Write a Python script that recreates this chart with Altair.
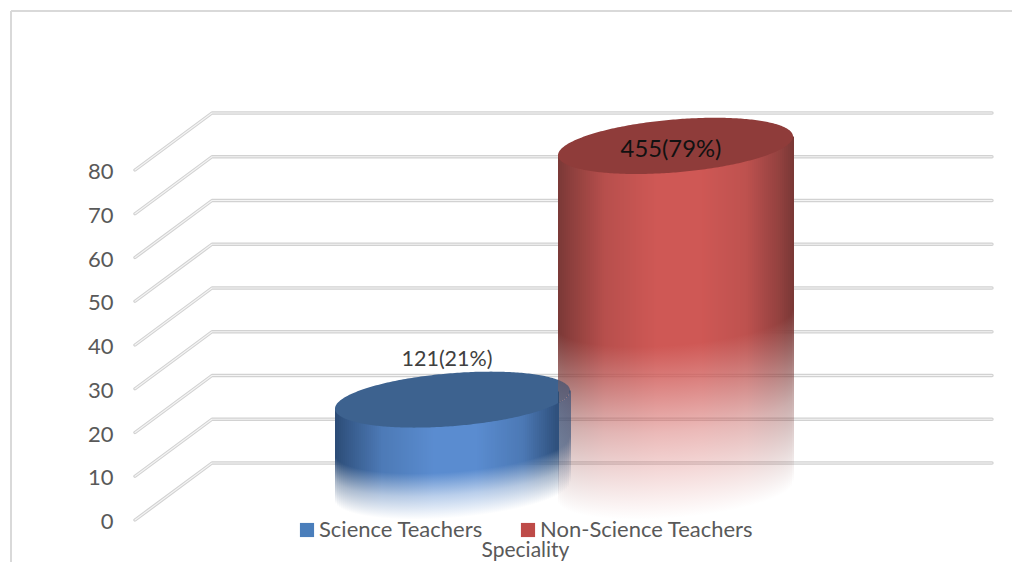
import altair as alt
import numpy as np

# ---- chart content ----
series = ["Science Teachers", "Non-Science Teachers"]
percents = [21, 79]
counts = [121, 455]
tick_values = [0, 10, 20, 30, 40, 50, 60, 70, 80]
legend_colors = ["#4a7ebb", "#be4b48"]

side_left = [(43, 75, 117), (122, 56, 54)]
side_mid = [(90, 140, 208), (207, 88, 85)]
top_colors = [(61, 98, 143), (143, 60, 58)]
overlap_top = "#2f4a70"
shade_pos = [0.0, 0.05, 0.2, 0.42, 0.6, 0.8, 0.94, 1.0]
shade_amt = [[0.0, 0.2, 0.72, 1.0, 1.0, 0.7, 0.1, 0.0],
             [0.0, 0.2, 0.72, 1.0, 1.0, 0.8, 0.3, 0.0]]

# ---- geometry of the pseudo-3D frame ----
W, H = 1004, 554
PX_PER_UNIT = 4.375
FRONT0 = 520.0  # canvas y of value 0, front edge


def vy(p):
    return (FRONT0 - p) / PX_PER_UNIT


DEPTH = 57 / PX_PER_UNIT
FLOOR_FRONT_X, BACK_X, RIGHT_X = 127, 204, 984
centers = [444.5, 667.5]
RX = 117.5
SLOPE = [-0.077, -0.08]
RY = 26.5

y_scale = alt.Scale(domain=[vy(8 + H), vy(8)], nice=False, zero=False)
x_scale = alt.Scale(domain=[0, W], nice=False, zero=False)

font = "Lato"
grey = "#595959"

x_axis = alt.Axis(
    title="Speciality", labels=False, ticks=False, domain=False, grid=False,
    titleFont=font, titleFontSize=21, titleFontWeight="normal", titleColor=grey,
    titleX=517, titleY=-12, titleBaseline="middle", titleAlign="center", orient="bottom")
y_axis = alt.Axis(
    values=tick_values, ticks=False, domain=False, grid=False, title=None,
    labelFont=font, labelFontSize=22, labelColor=grey, offset=-105, labelPadding=0,
    labelOffset=1.5, orient="left")

X = alt.X("x:Q", scale=x_scale, axis=x_axis)
Y = alt.Y("y:Q", scale=y_scale, axis=y_axis)

# gridlines
grid = []
for v in tick_values:
    for i, (x, dv) in enumerate([(FLOOR_FRONT_X, 0), (BACK_X, DEPTH), (RIGHT_X, DEPTH)]):
        grid.append({"x": x, "y": v + dv, "lvl": v, "o": i})
grid_data = alt.Data(values=grid)


def grid_layer(color, width):
    return alt.Chart(grid_data).mark_line(color=color, strokeWidth=width, strokeCap="round", strokeJoin="round").encode(
        x=X, y=Y, detail="lvl:N", order="o:Q")


def shade(i, f):
    a = float(np.interp(f, shade_pos, shade_amt[i]))
    return tuple(int(round(side_left[i][k] + (side_mid[i][k] - side_left[i][k]) * a)) for k in range(3))


def cylinder(i, overlap_from=None, overlap_alpha=1.0):
    cx = centers[i]
    left, right = cx - RX, cx + RX
    top_v = percents[i] + DEPTH / 2
    base_v = DEPTH / 2
    ry = RY / PX_PER_UNIT
    slope = SLOPE[i] / PX_PER_UNIT * -1  # value units rise to the right

    def arc(dx):
        return np.sqrt(np.maximum(0, 1 - (dx / RX) ** 2))

    rows = []
    x = int(np.floor(left))
    while x < right:
        xm = x + 1
        dx = xm - cx
        shear = slope * dx
        a = arc(dx) * ry
        front_top = top_v + shear - a
        front_bot = base_v + shear - a
        in_overlap = overlap_from is not None and x >= overlap_from
        start = front_top if in_overlap else top_v + shear
        mid = front_top + (front_bot - front_top) * 0.5
        off = (start - mid) / (start - front_bot)
        r, g, b = shade(i, (xm - left) / (2 * RX))
        al = overlap_alpha if in_overlap else 1.0
        stops = [
            {"offset": 0, "color": f"rgba({r},{g},{b},{al})"},
            {"offset": round(off, 4), "color": f"rgba({r},{g},{b},{al})"},
            {"offset": round(off + (1 - off) * 0.5, 4), "color": f"rgba({r},{g},{b},{al * 0.42:.3f})"},
            {"offset": 1, "color": f"rgba({r},{g},{b},0)"},
        ]
        rows.append({"x": x, "x2": x + 2, "y": start, "y2": front_bot,
                     "grad": {"gradient": "linear", "x1": 0, "y1": 0, "x2": 0, "y2": 1, "stops": stops}})
        x += 2
    body = alt.Chart(alt.Data(values=rows)).mark_rect(strokeWidth=0).encode(
        x=X, x2="x2:Q", y=Y, y2="y2:Q",
        fill=alt.Fill("grad:N", scale=None, legend=None))

    # elliptical top
    dxs = np.cos(np.linspace(np.pi, 0, 161)) * RX
    xs = cx + dxs
    el = [{"x": float(a), "y": float(top_v + slope * d + arc(d) * ry), "y2": float(top_v + slope * d - arc(d) * ry)}
          for a, d in zip(xs, dxs)]
    col = "#%02x%02x%02x" % top_colors[i]
    layers = [body]
    if overlap_from is None:
        layers.append(alt.Chart(alt.Data(values=el)).mark_area(color=col, opacity=1, interpolate="linear").encode(
            x=X, y=Y, y2="y2:Q"))
    else:
        e1 = [p for p in el if p["x"] <= overlap_from]
        e2 = [p for p in el if p["x"] >= overlap_from]
        dbound = overlap_from - cx
        bp = {"x": overlap_from, "y": float(top_v + slope * dbound + arc(dbound) * ry),
              "y2": float(top_v + slope * dbound - arc(dbound) * ry)}
        e1.append(bp)
        e2.insert(0, bp)
        layers.append(alt.Chart(alt.Data(values=e1)).mark_area(color=col, opacity=1, interpolate="linear").encode(
            x=X, y=Y, y2="y2:Q"))
        layers.append(alt.Chart(alt.Data(values=e2)).mark_area(color=overlap_top, opacity=overlap_alpha, interpolate="linear").encode(
            x=X, y=Y, y2="y2:Q"))
    return layers


red_layers = cylinder(1)
blue_layers = cylinder(0, overlap_from=550, overlap_alpha=0.62)

# frame lines (left and top edges of the figure)
frame = alt.Chart(alt.Data(values=[
    {"x": 3, "y": vy(11), "f": 0, "o": 0}, {"x": W, "y": vy(11), "f": 0, "o": 1},
    {"x": 3, "y": vy(11), "f": 1, "o": 0}, {"x": 3, "y": vy(8 + H), "f": 1, "o": 1},
])).mark_line(color="#d9d9d9", strokeWidth=2).encode(x=X, y=Y, detail="f:N", order="o:Q")

# data labels
lab1 = alt.Chart(alt.Data(values=[{"x": 439, "y": vy(359.5), "t": f"{counts[0]}({percents[0]}%)"}])).mark_text(
    font=font, fontSize=21.5, color="#404040").encode(x=X, y=Y, text="t:N")
lab2 = alt.Chart(alt.Data(values=[{"x": 663, "y": vy(149.5), "t": f"{counts[1]}({percents[1]}%)"}])).mark_text(
    font=font, fontSize=23.8, color="#111111").encode(x=X, y=Y, text="t:N")

# legend carried by a zero-size layer
legend_layer = alt.Chart(alt.Data(values=[{"s": s} for s in series])).mark_square(size=0).encode(
    x=alt.value(-50), y=alt.value(-50),
    color=alt.Color("s:N", scale=alt.Scale(domain=series, range=legend_colors), legend=alt.Legend(
        title=None, orient="none", direction="horizontal", legendX=288, legendY=511,
        symbolType="square", symbolSize=200, symbolOpacity=1, labelFont=font, labelFontSize=22,
        labelColor=grey, columnPadding=34, labelOffset=1, symbolStrokeWidth=0, labelLimit=400)),
)

chart = alt.layer(
    frame, grid_layer("#d2d2d2", 3.4), grid_layer("#f4f4f4", 1.1),
    *red_layers, *blue_layers, lab1, lab2, legend_layer,
).properties(
    width=W, height=H, padding=0, autosize=alt.AutoSizeParams(type="none"),
    background="white",
).configure_view(stroke=None)

chart.save("out.html", embed_options={"renderer": "svg", "actions": False})
